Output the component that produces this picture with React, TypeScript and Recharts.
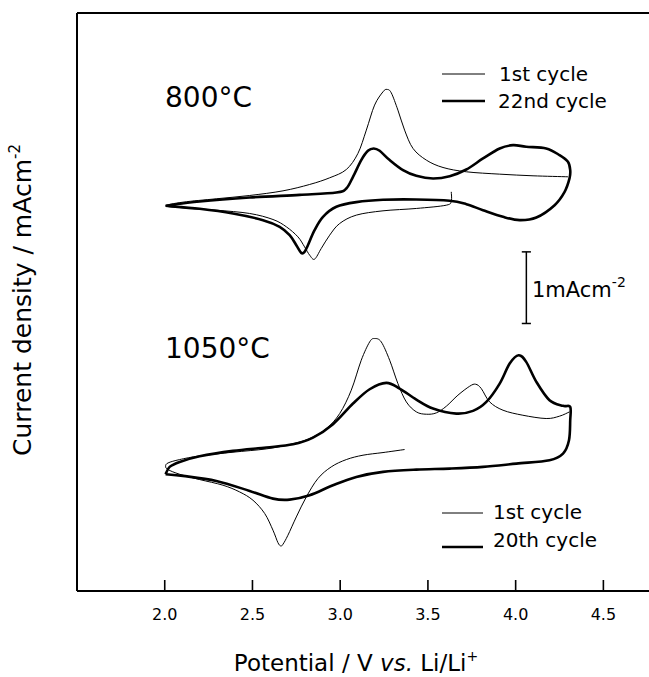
import React from "react"
import { LineChart, Line, XAxis, YAxis, ReferenceLine } from "recharts"

// [potential (V vs Li/Li+), current density (mA cm^-2, offset per panel)]
const c800First: number[][] = [
  [3.633, 5.573], [3.633, 5.448], [3.605, 5.387], [3.434, 5.341], [3.244, 5.308], [3.092, 5.248],
  [2.997, 5.131], [2.94, 4.968], [2.892, 4.782], [2.854, 4.633], [2.826, 4.689], [2.797, 4.805],
  [2.759, 4.945], [2.693, 5.085], [2.617, 5.187], [2.484, 5.271], [2.294, 5.317], [2.104, 5.35],
  [2.005, 5.378], [2.104, 5.429], [2.294, 5.476], [2.484, 5.522], [2.674, 5.587], [2.826, 5.676],
  [2.94, 5.769], [3.035, 5.885], [3.101, 6.109], [3.149, 6.435], [3.196, 6.784], [3.244, 6.97],
  [3.267, 7.003], [3.291, 6.956], [3.329, 6.714], [3.367, 6.435], [3.415, 6.179], [3.491, 6.016],
  [3.586, 5.913], [3.719, 5.853], [3.909, 5.82], [4.099, 5.797], [4.298, 5.783],
]

const c800Cycle22: number[][] = [
  [2.005, 5.378], [2.199, 5.438], [2.484, 5.494], [2.769, 5.531], [2.978, 5.564], [3.035, 5.62],
  [3.073, 5.783], [3.12, 6.016], [3.158, 6.146], [3.191, 6.179], [3.225, 6.146], [3.282, 6.016],
  [3.358, 5.876], [3.434, 5.797], [3.529, 5.76], [3.624, 5.792], [3.719, 5.885], [3.814, 6.039],
  [3.909, 6.179], [3.985, 6.225], [4.06, 6.202], [4.174, 6.179], [4.25, 6.086], [4.298, 5.992],
  [4.311, 5.876], [4.307, 5.76], [4.279, 5.573], [4.222, 5.387], [4.118, 5.215], [4.022, 5.178],
  [3.928, 5.224], [3.814, 5.317], [3.719, 5.401], [3.624, 5.448], [3.434, 5.466], [3.244, 5.462],
  [3.092, 5.429], [2.978, 5.364], [2.902, 5.224], [2.854, 5.038], [2.816, 4.828], [2.797, 4.735],
  [2.778, 4.721], [2.75, 4.828], [2.712, 4.968], [2.655, 5.085], [2.56, 5.178], [2.389, 5.271],
  [2.199, 5.336], [2.005, 5.378],
]

const c1050First: number[][] = [
  [3.367, 1.975], [3.244, 1.933], [3.13, 1.896], [3.035, 1.835], [2.949, 1.733], [2.873, 1.57],
  [2.807, 1.314], [2.75, 1.034], [2.702, 0.778], [2.674, 0.653], [2.661, 0.629], [2.645, 0.676],
  [2.617, 0.848], [2.57, 1.081], [2.503, 1.267], [2.427, 1.383], [2.332, 1.477], [2.199, 1.556],
  [2.085, 1.63], [2.019, 1.695], [2.005, 1.742], [2.019, 1.788], [2.085, 1.835], [2.199, 1.886],
  [2.389, 1.938], [2.579, 1.984], [2.712, 2.045], [2.826, 2.128], [2.921, 2.268], [2.997, 2.477],
  [3.063, 2.803], [3.12, 3.222], [3.168, 3.478], [3.196, 3.525], [3.234, 3.478], [3.282, 3.222],
  [3.329, 2.896], [3.377, 2.64], [3.434, 2.501], [3.491, 2.468], [3.548, 2.487], [3.605, 2.58],
  [3.671, 2.734], [3.738, 2.859], [3.772, 2.887], [3.804, 2.827], [3.852, 2.64], [3.928, 2.524],
  [4.041, 2.454], [4.174, 2.408], [4.25, 2.441], [4.307, 2.501],
]

const c1050Cycle20: number[][] = [
  [2.005, 1.63], [2.028, 1.733], [2.085, 1.802], [2.199, 1.881], [2.389, 1.956], [2.579, 2.003],
  [2.731, 2.049], [2.845, 2.142], [2.959, 2.329], [3.073, 2.617], [3.168, 2.817], [3.263, 2.906],
  [3.339, 2.827], [3.434, 2.673], [3.529, 2.547], [3.662, 2.477], [3.757, 2.515], [3.833, 2.64],
  [3.909, 2.896], [3.966, 3.176], [4.017, 3.292], [4.06, 3.199], [4.118, 2.92], [4.193, 2.664],
  [4.27, 2.585], [4.311, 2.571], [4.311, 2.384], [4.304, 2.105], [4.27, 1.919], [4.193, 1.826],
  [4.004, 1.779], [3.814, 1.733], [3.624, 1.709], [3.434, 1.695], [3.244, 1.663], [3.092, 1.593],
  [2.959, 1.477], [2.826, 1.337], [2.712, 1.276], [2.617, 1.29], [2.484, 1.397], [2.294, 1.537],
  [2.104, 1.607], [2.005, 1.63],
]

const xTicks = [2.0, 2.5, 3.0, 3.5, 4.0, 4.5]
const X_DOMAIN: [number, number] = [1.5, 4.76]
const Y_DOMAIN: [number, number] = [0, 8.07]

// 1 mA cm^-2 scale bar
const BAR_V = 4.061
const BAR_BASE = 3.735
const BAR_LEN = 1

const W = 649
const H = 677
const LEFT = 77
const TOP = 13
const X_AXIS_H = 86
const TICK_PX = 11
const SERIF = 0.026
const FONT = "'DejaVu Sans', sans-serif"

const toPts = (arr: number[][]) => arr.map(([v, j]) => ({ v, j }))

// small Catmull-Rom curve so loops can be drawn smoothly
function catmull(context: any) {
  let pts: [number, number][] = []
  return {
    areaStart() {},
    areaEnd() {},
    lineStart() {
      pts = []
    },
    point(x: number, y: number) {
      pts.push([+x, +y])
    },
    lineEnd() {
      if (!pts.length) return
      context.moveTo(pts[0][0], pts[0][1])
      for (let i = 0; i < pts.length - 1; i++) {
        const p0 = pts[i - 1] || pts[i]
        const p1 = pts[i]
        const p2 = pts[i + 1]
        const p3 = pts[i + 2] || p2
        context.bezierCurveTo(
          p1[0] + (p2[0] - p0[0]) / 6,
          p1[1] + (p2[1] - p0[1]) / 6,
          p2[0] - (p3[0] - p1[0]) / 6,
          p2[1] - (p3[1] - p1[1]) / 6,
          p2[0],
          p2[1]
        )
      }
    },
  }
}

const XTick = (props: any) => {
  const { x, payload } = props
  return (
    <text x={x} y={620} textAnchor="middle" fontSize={16} fontFamily={FONT} fill="#000">
      {payload.value.toFixed(1)}
    </text>
  )
}

// inward tick: short stub at the bottom end of a vertical reference line
const TickShape = (props: any) => {
  const x = props.x1 ?? props.x
  const yb = Math.max(props.y1 ?? 0, props.y2 ?? 0)
  if (x == null || !isFinite(x) || !isFinite(yb)) return null
  return <path d={`M${x},${yb}V${yb - TICK_PX}`} stroke="#000" strokeWidth={1.6} fill="none" />
}

const series = [
  { key: "800-1", data: c800First, w: 1 },
  { key: "800-22", data: c800Cycle22, w: 2.6 },
  { key: "1050-1", data: c1050First, w: 1 },
  { key: "1050-20", data: c1050Cycle20, w: 2.6 },
]

export default function App() {
  return (
    <div style={{ position: "absolute", left: 0, top: 0, width: W, height: H, background: "#fff" }}>
      <LineChart width={W} height={H} margin={{ top: TOP, right: 0, bottom: 0, left: LEFT }}>
        <XAxis
          type="number"
          dataKey="v"
          domain={X_DOMAIN}
          ticks={xTicks}
          allowDataOverflow
          height={X_AXIS_H}
          axisLine={{ stroke: "#000", strokeWidth: 2 }}
          tickLine={false}
          tick={<XTick />}
          interval={0}
        />
        <YAxis type="number" dataKey="j" domain={Y_DOMAIN} allowDataOverflow hide />
        {/* frame: left axis and top edge */}
        <ReferenceLine x={X_DOMAIN[0]} stroke="#000" strokeWidth={2} />
        <ReferenceLine y={Y_DOMAIN[1]} stroke="#000" strokeWidth={2} />
        {xTicks.map((t) => (
          <ReferenceLine key={"tick" + t} x={t} stroke="#000" shape={<TickShape />} />
        ))}
        {series.map((s) => (
          <Line
            key={s.key}
            data={toPts(s.data)}
            dataKey="j"
            type={catmull as any}
            stroke="#000"
            strokeWidth={s.w}
            dot={false}
            activeDot={false}
            isAnimationActive={false}
          />
        ))}
        <ReferenceLine
          segment={[{ x: BAR_V, y: BAR_BASE }, { x: BAR_V, y: BAR_BASE + BAR_LEN }]}
          stroke="#000"
          strokeWidth={1.5}
        />
        <ReferenceLine
          segment={[{ x: BAR_V - SERIF, y: BAR_BASE }, { x: BAR_V + SERIF, y: BAR_BASE }]}
          stroke="#000"
          strokeWidth={1.5}
        />
        <ReferenceLine
          segment={[{ x: BAR_V - SERIF, y: BAR_BASE + BAR_LEN }, { x: BAR_V + SERIF, y: BAR_BASE + BAR_LEN }]}
          stroke="#000"
          strokeWidth={1.5}
        />
      </LineChart>
      <svg
        width={W}
        height={H}
        style={{ position: "absolute", left: 0, top: 0, pointerEvents: "none" }}
        fontFamily={FONT}
        fill="#000"
      >
        <text x={165} y={107} fontSize={28}>800°C</text>
        <text x={165} y={358} fontSize={28}>1050°C</text>

        <line x1={442} x2={485} y1={74} y2={74} stroke="#000" strokeWidth={1} />
        <text x={499} y={81} fontSize={20}>1st cycle</text>
        <line x1={442} x2={485} y1={101} y2={101} stroke="#000" strokeWidth={2.6} />
        <text x={498} y={108} fontSize={20}>22nd cycle</text>

        <line x1={442} x2={483} y1={513} y2={513} stroke="#000" strokeWidth={1} />
        <text x={493} y={519} fontSize={20}>1st cycle</text>
        <line x1={442} x2={483} y1={547} y2={547} stroke="#000" strokeWidth={2.6} />
        <text x={493} y={547} fontSize={20}>20th cycle</text>

        <text x={532} y={297} fontSize={21}>
          1mAcm<tspan dy={-10} fontSize={14}>-2</tspan>
        </text>

        <text x={356} y={671} fontSize={23} textAnchor="middle">
          Potential / V <tspan fontStyle="italic">vs.</tspan> Li/Li<tspan dy={-10} fontSize={14}>+</tspan>
        </text>

        <text transform="translate(31, 300) rotate(-90)" fontSize={25} textAnchor="middle">
          Current density / mAcm<tspan dy={-11} fontSize={15}>-2</tspan>
        </text>
      </svg>
    </div>
  )
}
